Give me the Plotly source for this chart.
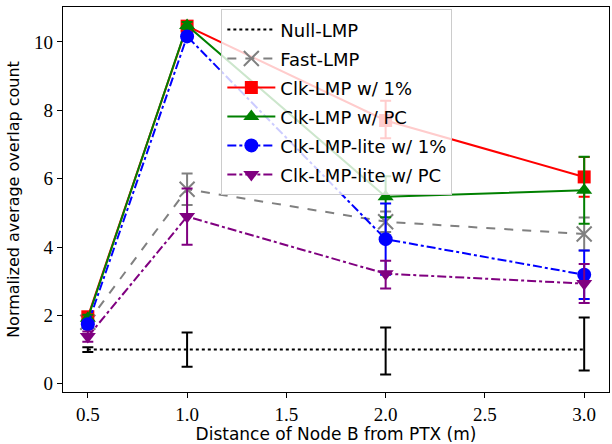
import plotly.graph_objects as go

x = [0.5, 1.0, 2.0, 3.0]

null_y = [1.0, 1.0, 1.0, 1.0]
null_ep = [0.07, 0.5, 0.65, 0.94]
null_em = [0.07, 0.5, 0.73, 0.61]

fast_y = [1.80, 5.69, 4.74, 4.38]
fast_ep = [0.10, 0.46, 0.30, 0.48]
fast_em = [0.10, 0.46, 0.30, 0.48]

clk1_y = [1.96, 10.46, 7.70, 6.05]
clk1_ep = [0.10, 0.10, 0.58, 0.58]
clk1_em = [0.10, 0.10, 0.52, 0.58]

clkpc_y = [1.92, 10.48, 5.47, 5.66]
clkpc_ep = [0.10, 0.10, 0.60, 0.98]
clkpc_em = [0.10, 0.10, 0.60, 0.98]

lite1_y = [1.74, 10.16, 4.23, 3.19]
lite1_ep = [0.10, 0.10, 1.04, 0.71]
lite1_em = [0.10, 0.10, 1.04, 0.71]

litepc_y = [1.38, 4.89, 3.22, 2.93]
litepc_ep = [0.15, 0.82, 0.38, 0.57]
litepc_em = [0.15, 0.82, 0.43, 0.57]

names = ["Null-LMP", "Fast-LMP", "Clk-LMP w/ 1%", "Clk-LMP w/ PC",
         "Clk-LMP-lite w/ 1%", "Clk-LMP-lite w/ PC"]

SANS = "DejaVu Sans"
SERIF = "Liberation Serif"
LEG_TEXT = 18

fig = go.Figure()

def add(y, ep, em, name, color, dash, symbol, msize, mode="lines+markers", mline=0):
    fig.add_trace(go.Scatter(
        x=x, y=y, name='<span style="font-size:%dpx">%s</span>' % (LEG_TEXT, name),
        mode=mode,
        line=dict(color=color, width=2, dash=dash),
        marker=dict(symbol=symbol, size=msize, color=color,
                    line=dict(color=color, width=mline)),
        error_y=dict(type="data", symmetric=False, array=ep, arrayminus=em,
                     color=color, thickness=2, width=5.5),
    ))

add(null_y, null_ep, null_em, names[0], "black", "dot", "line-ew", 1, mode="lines")
add(fast_y, fast_ep, fast_em, names[1], "gray", "dash", "x-thin", 15, mline=2)
add(clk1_y, clk1_ep, clk1_em, names[2], "red", "solid", "square", 13)
add(clkpc_y, clkpc_ep, clkpc_em, names[3], "green", "solid", "triangle-up", 14)
add(lite1_y, lite1_ep, lite1_em, names[4], "blue", "dashdot", "circle", 14)
add(litepc_y, litepc_ep, litepc_em, names[5], "purple", "dashdot", "triangle-down", 14)

axis_common = dict(
    showline=True, linecolor="black", linewidth=1.2, mirror=True,
    ticks="outside", ticklen=5, tickwidth=1.2, tickcolor="black",
    showgrid=False, zeroline=False,
    tickfont=dict(family=SERIF, size=19, color="black"),
)

fig.update_layout(
    width=612, height=444,
    margin=dict(l=63, r=2, t=7, b=49),
    plot_bgcolor="white", paper_bgcolor="white",
    xaxis=dict(range=[0.375, 3.125], tickvals=[0.5, 1.0, 1.5, 2.0, 2.5, 3.0],
               ticktext=["0.5", "1.0", "1.5", "2.0", "2.5", "3.0"],
               title=dict(text="Distance of Node B from PTX (m)",
                          font=dict(family=SANS, size=17, color="black"), standoff=5),
               **axis_common),
    yaxis=dict(range=[-0.24, 11.02], tickvals=[0, 2, 4, 6, 8, 10],
               title=dict(text="Normalized average overlap count",
                          font=dict(family=SANS, size=16, color="black"), standoff=10),
               **axis_common),
    legend=dict(x=0.29, y=0.995, xanchor="left", yanchor="top",
                bgcolor="rgba(255,255,255,0.8)", bordercolor="#cccccc", borderwidth=1,
                font=dict(family=SANS, size=20, color="black"),
                itemwidth=48, tracegroupgap=0),
    showlegend=True,
)

fig.write_html("out.html")
